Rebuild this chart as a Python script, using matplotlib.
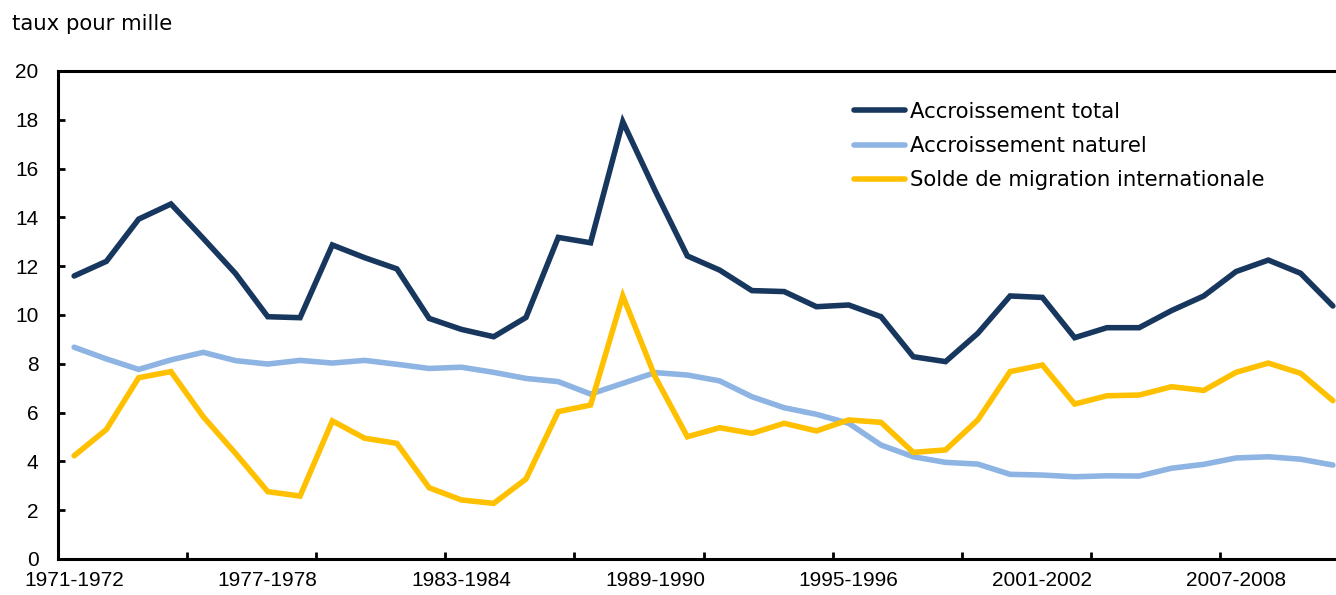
import matplotlib.pyplot as plt
import numpy as np

# Périodes 1971-1972 à 2010-2011
periodes = [f"{a}-{a + 1}" for a in range(1971, 2011)]

# Taux pour mille
accroissement_total = [
    11.6, 12.2, 13.93, 14.55, 13.14, 11.7, 9.93, 9.89, 12.87, 12.35,
    11.89, 9.86, 9.41, 9.11, 9.9, 13.18, 12.96, 17.92, 15.1, 12.42,
    11.84, 11.0, 10.96, 10.34, 10.41, 9.93, 8.29, 8.09, 9.25, 10.78,
    10.72, 9.07, 9.48, 9.48, 10.18, 10.78, 11.78, 12.25, 11.71, 10.37,
]
accroissement_naturel = [
    8.68, 8.2, 7.77, 8.16, 8.47, 8.13, 7.99, 8.14, 8.03, 8.14,
    7.98, 7.81, 7.86, 7.65, 7.4, 7.27, 6.76, 7.2, 7.64, 7.54,
    7.3, 6.65, 6.2, 5.93, 5.56, 4.67, 4.19, 3.96, 3.89, 3.47,
    3.44, 3.37, 3.41, 3.40, 3.72, 3.88, 4.14, 4.19, 4.09, 3.85,
]
solde_migration = [
    4.23, 5.31, 7.43, 7.68, 5.83, 4.33, 2.76, 2.58, 5.66, 4.95,
    4.74, 2.92, 2.42, 2.28, 3.28, 6.04, 6.31, 10.78, 7.47, 5.01,
    5.38, 5.15, 5.56, 5.25, 5.7, 5.6, 4.37, 4.47, 5.7, 7.68,
    7.95, 6.35, 6.69, 6.72, 7.06, 6.91, 7.65, 8.03, 7.61, 6.49,
]

series = [
    ("Accroissement total", accroissement_total, "#17375E"),
    ("Accroissement naturel", accroissement_naturel, "#8DB4E2"),
    ("Solde de migration internationale", solde_migration, "#FFC000"),
]

fig = plt.figure(figsize=(13.36, 5.95), dpi=100)
ax = fig.add_axes([58 / 1336, 1 - 559 / 595, 1291 / 1336, 488 / 595])

x = np.arange(len(periodes))
for nom, valeurs, couleur in series:
    ax.plot(x, valeurs, color=couleur, lw=4.0, label=nom,
            solid_joinstyle="miter", solid_capstyle="round")

ax.set_ylim(0, 20)
ax.set_yticks(range(0, 21, 2))
ax.set_xlim(-0.5, len(periodes) - 0.5)

# étiquettes tous les 6 ans, graduations tous les 4 ans
ax.set_xticks(x[::6])
ax.set_xticklabels(periodes[::6], fontfamily="Liberation Sans", fontsize=15)
ax.set_xticks(np.arange(-0.5, len(periodes), 4), minor=True)
ax.tick_params(axis="x", which="major", length=0, pad=9)
ax.tick_params(axis="x", which="minor", direction="in", length=5, width=2)
ax.tick_params(axis="y", direction="in", length=5, width=2, pad=14)
for lab in ax.get_yticklabels():
    lab.set_fontfamily("Liberation Sans")
    lab.set_fontsize(15)

for side in ["left", "bottom", "top", "right"]:
    ax.spines[side].set_linewidth(2.2)

fig.text(12 / 1336, 1 - 24 / 595, "taux pour mille", fontsize=15.3,
         va="center", ha="left", family="DejaVu Sans")

leg = ax.legend(loc="upper left", bbox_to_anchor=(787 / 1291, 1 - 22 / 488),
                frameon=False, fontsize=15.3, handlelength=2.4,
                handletextpad=0.25, labelspacing=0.68, borderaxespad=0)

fig.savefig("out.png", dpi=100)
